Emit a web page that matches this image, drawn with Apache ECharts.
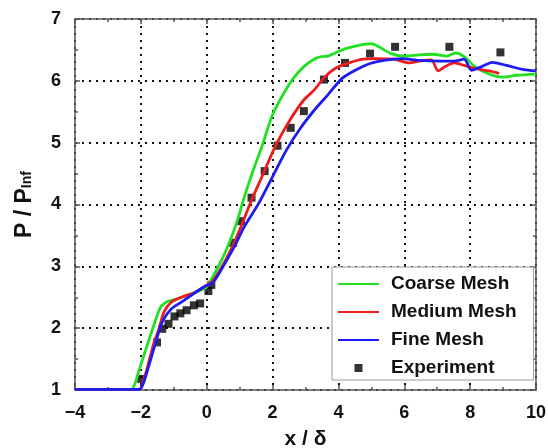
<!DOCTYPE html>
<html>
<head>
<meta charset="utf-8">
<script src="https://cdn.jsdelivr.net/npm/echarts@6/dist/echarts.min.js"></script>
<style>
  html, body { margin: 0; padding: 0; background: #fff; }
  #chart { width: 548px; height: 448px; }
</style>
</head>
<body>
<div id="chart"></div>
<script>
// values
var coarseX = [-4, -2.30, -2.09, -1.83, -1.61, -1.40, -1.19, -0.87, -0.45, -0.02, 0.19, 0.45, 0.67, 0.93, 1.14, 1.41, 1.67, 1.99, 2.31, 2.63, 2.95, 3.26, 3.48, 3.69, 3.90, 4.22, 4.75, 5.01, 5.23, 5.60, 6.02, 6.45, 6.87, 7.29, 7.56, 7.82, 8.14, 8.57, 8.99, 9.41, 10];
var coarseY = [1.01, 1.01, 1.26, 1.69, 2.04, 2.34, 2.43, 2.48, 2.56, 2.66, 2.84, 3.10, 3.36, 3.74, 4.12, 4.55, 4.93, 5.44, 5.77, 6.04, 6.23, 6.35, 6.39, 6.40, 6.45, 6.52, 6.59, 6.60, 6.55, 6.44, 6.40, 6.42, 6.43, 6.40, 6.45, 6.39, 6.23, 6.11, 6.06, 6.09, 6.11];

var mediumX = [-4, -2.09, -1.99, -1.83, -1.61, -1.45, -1.30, -1.08, -0.77, -0.34, -0.02, 0.19, 0.51, 0.77, 1.04, 1.36, 1.67, 2.10, 2.52, 2.95, 3.26, 3.58, 3.90, 4.32, 4.75, 5.17, 5.70, 6.13, 6.45, 6.82, 7.03, 7.24, 7.51, 7.82, 8.14, 8.57, 8.88];
var mediumY = [1.01, 1.01, 1.04, 1.31, 1.75, 1.99, 2.26, 2.42, 2.50, 2.58, 2.69, 2.77, 3.04, 3.31, 3.64, 4.07, 4.44, 4.96, 5.36, 5.69, 5.85, 6.06, 6.20, 6.29, 6.35, 6.36, 6.35, 6.29, 6.32, 6.34, 6.16, 6.23, 6.29, 6.25, 6.20, 6.16, 6.12];

var fineX = [-4, -2.04, -1.93, -1.77, -1.56, -1.35, -1.08, -0.77, -0.39, -0.08, 0.19, 0.51, 0.83, 1.14, 1.57, 1.99, 2.42, 2.84, 3.26, 3.69, 4.11, 4.54, 4.96, 5.38, 5.92, 6.45, 7.09, 7.51, 7.82, 8.04, 8.35, 8.67, 9.10, 9.63, 10];
var fineY = [1.01, 1.01, 1.10, 1.37, 1.75, 2.10, 2.31, 2.42, 2.56, 2.67, 2.74, 3.01, 3.31, 3.64, 4.01, 4.44, 4.88, 5.23, 5.52, 5.78, 6.04, 6.18, 6.28, 6.33, 6.36, 6.33, 6.32, 6.32, 6.35, 6.17, 6.23, 6.30, 6.25, 6.18, 6.16];

var expX = [-1.99, -1.51, -1.35, -1.16, -0.98, -0.80, -0.61, -0.39, -0.20, 0.05, 0.14, 0.80, 1.04, 1.36, 1.76, 2.15, 2.55, 2.95, 3.56, 4.20, 4.96, 5.72, 7.37, 8.92];
var expY = [1.18, 1.77, 1.99, 2.07, 2.19, 2.24, 2.29, 2.37, 2.40, 2.60, 2.70, 3.38, 3.73, 4.11, 4.54, 4.95, 5.24, 5.51, 6.02, 6.29, 6.44, 6.55, 6.55, 6.46];

var seriesNames = ['Coarse Mesh', 'Medium Mesh', 'Fine Mesh', 'Experiment'];

function pairs(xs, ys) {
  var out = [];
  for (var i = 0; i < xs.length; i++) out.push([xs[i], ys[i]]);
  return out;
}

var font = 'Liberation Sans, Arial, sans-serif';
var axisColor = '#555';

function minusSign(v) {
  return String(v).replace('-', '\u2212');
}

var dotted = { color: '#111', width: 2, type: [2, 5] };
var noSymbol = { opacity: 0 };

var myChart = echarts.init(document.getElementById('chart'));
var option = {
  animation: false,
  grid: { left: 75, right: 12, top: 19, bottom: 58, outerBoundsMode: 'none' },
  legend: {
    orient: 'vertical',
    left: 332,
    top: 267,
    padding: [7, 17, 2, 5],
    itemWidth: 41,
    itemHeight: 8,
    itemGap: 8,
    backgroundColor: '#fff',
    borderColor: '#999',
    borderWidth: 1,
    textStyle: { fontFamily: font, fontWeight: 'bold', fontSize: 19, lineHeight: 20, color: '#111', padding: [0, 0, 0, 7] },
    data: [
      { name: seriesNames[0], itemStyle: noSymbol },
      { name: seriesNames[1], itemStyle: noSymbol },
      { name: seriesNames[2], itemStyle: noSymbol },
      { name: seriesNames[3], icon: 'path://M0,0H10V10H0Z' }
    ]
  },
  xAxis: [{
    type: 'value',
    min: -4, max: 10, interval: 2,
    name: 'x / \u03b4',
    nameLocation: 'middle',
    nameGap: 39,
    nameTextStyle: { fontFamily: font, fontWeight: 'bold', fontSize: 21, color: '#111' },
    axisLine: { onZero: false, lineStyle: { color: axisColor, width: 1.5 } },
    axisTick: { inside: true, length: 5, lineStyle: { color: axisColor, width: 1.5 } },
    minorTick: { show: true, splitNumber: 2, length: 3, lineStyle: { color: axisColor, width: 1.5 } },
    axisLabel: { fontFamily: font, fontWeight: 'bold', fontSize: 18, color: '#111', margin: 14, formatter: minusSign },
    splitLine: { show: true, lineStyle: dotted }
  }, {
    type: 'value',
    position: 'top',
    min: -4, max: 10, interval: 2,
    axisLine: { show: true, onZero: false, lineStyle: { color: axisColor, width: 1.5 } },
    axisTick: { inside: true, length: 5, lineStyle: { color: axisColor, width: 1.5 } },
    minorTick: { show: true, splitNumber: 2, length: 3, lineStyle: { color: axisColor, width: 1.5 } },
    axisLabel: { show: false },
    splitLine: { show: false }
  }],
  yAxis: [{
    type: 'value',
    min: 1, max: 7, interval: 1,
    name: '{a|P / P}{b|Inf}',
    nameLocation: 'middle',
    nameRotate: 90,
    nameGap: 34,
    nameTextStyle: {
      rich: {
        a: { fontFamily: font, fontWeight: 'bold', fontSize: 23, color: '#111', padding: [0, 0, 5, 0] },
        b: { fontFamily: font, fontWeight: 'bold', fontSize: 14, color: '#111' }
      }
    },
    axisLine: { onZero: false, lineStyle: { color: axisColor, width: 1.5 } },
    axisTick: { inside: true, length: 5, lineStyle: { color: axisColor, width: 1.5 } },
    minorTick: { show: true, splitNumber: 2, length: 3, lineStyle: { color: axisColor, width: 1.5 } },
    axisLabel: { fontFamily: font, fontWeight: 'bold', fontSize: 18, color: '#111', margin: 14 },
    splitLine: { show: true, lineStyle: dotted }
  }, {
    type: 'value',
    position: 'right',
    min: 1, max: 7, interval: 1,
    axisLine: { show: true, onZero: false, lineStyle: { color: axisColor, width: 1.5 } },
    axisTick: { inside: true, length: 5, lineStyle: { color: axisColor, width: 1.5 } },
    minorTick: { show: true, splitNumber: 2, length: 3, lineStyle: { color: axisColor, width: 1.5 } },
    axisLabel: { show: false },
    splitLine: { show: false }
  }],
  series: [{
    name: seriesNames[0],
    type: 'line',
    symbol: 'none',
    smooth: 0.25,
    color: '#22e022',
    lineStyle: { width: 2.8 },
    data: pairs(coarseX, coarseY)
  }, {
    name: seriesNames[1],
    type: 'line',
    symbol: 'none',
    smooth: 0.25,
    color: '#ee1c1c',
    lineStyle: { width: 2.8 },
    data: pairs(mediumX, mediumY)
  }, {
    name: seriesNames[2],
    type: 'line',
    symbol: 'none',
    smooth: 0.25,
    color: '#1c1cf0',
    lineStyle: { width: 2.8 },
    data: pairs(fineX, fineY)
  }, {
    name: seriesNames[3],
    type: 'scatter',
    symbol: 'rect',
    symbolSize: 8,
    color: '#000',
    data: pairs(expX, expY)
  }]
};
if (option && typeof option === "object") {
  myChart.setOption(option, true);
}
</script>
</body>
</html>
